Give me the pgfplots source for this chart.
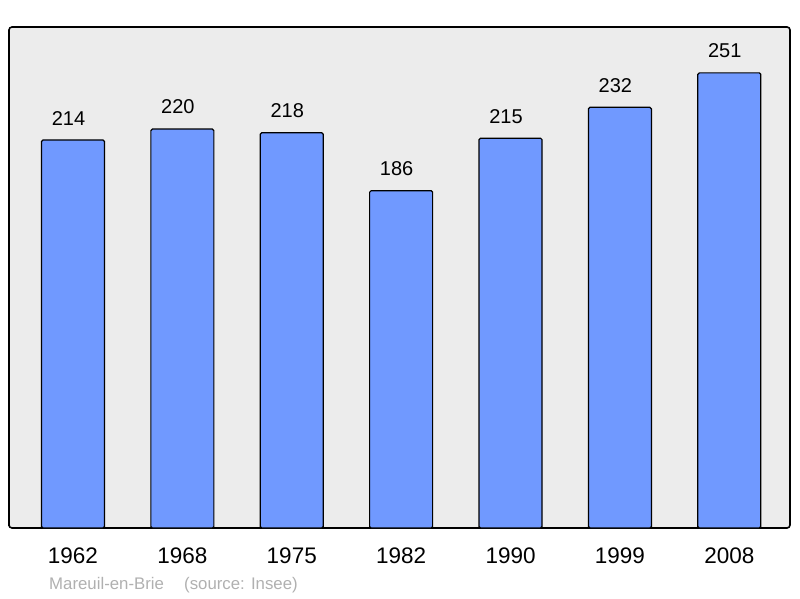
\documentclass[border=0pt]{standalone}
\usepackage{pgfplots}
\pgfplotsset{compat=1.18}
\usepackage{fontspec}
\setmainfont{Liberation Sans}
\definecolor{barblue}{HTML}{7099FF}
\definecolor{bggray}{HTML}{ECECEC}
\definecolor{srcgray}{HTML}{B0B0B0}
\begin{document}
\begin{tikzpicture}[x=1pt,y=1pt]
\useasboundingbox (0,0) rectangle (800,598);
\begin{axis}[
  at={(9pt,70pt)}, anchor=south west,
  scale only axis, width=781pt, height=501pt,
  xmin=-0.585, xmax=6.555, ymin=0, ymax=276.3,
  axis background/.style={fill=bggray},
  axis line style={black, line width=1.6pt, rounded corners=3pt},
  ytick=\empty,
  xtick={0,...,6},
  xticklabels={1962,1968,1975,1982,1990,1999,2008},
  major tick length=0pt,
  tick label style={font=\fontsize{22.5}{26}\selectfont},
  xticklabel style={yshift=-16pt},
  /pgf/number format/assume math mode=true,
  ybar, bar width=63pt,
  nodes near coords,
  every node near coord/.append style={font=\fontsize{20}{24}\selectfont, yshift=11pt, xshift=-4.5pt},
]
\addplot[fill=barblue, draw=black, line width=1.2pt, rounded corners=1.5pt]
  coordinates {(0,214) (1,220) (2,218) (3,186) (4,215) (5,232) (6,251)};
\end{axis}
\node[anchor=west, text=srcgray, font=\fontsize{16.8}{20}\selectfont, inner sep=0pt] at (49,12.5) {Mareuil-en-Brie\hspace{1.2em}(source: Insee)};
\end{tikzpicture}
\end{document}
